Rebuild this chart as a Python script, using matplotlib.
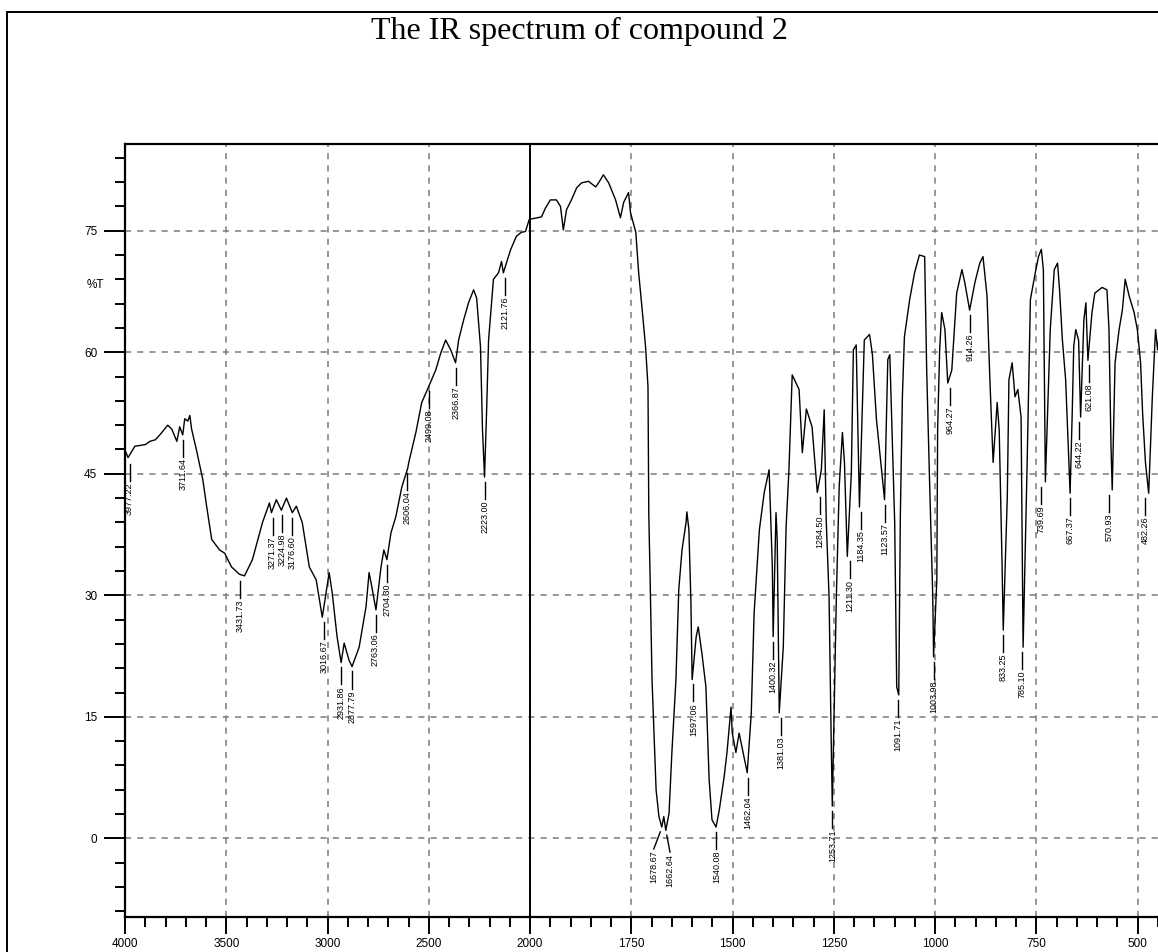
import numpy as np
import matplotlib
matplotlib.use("Agg")
import matplotlib.pyplot as plt
from matplotlib.lines import Line2D
from matplotlib.ticker import FixedLocator

# wavenumber (cm-1) and %T
wavenumber = [3998, 3985, 3951, 3900, 3877, 3850, 3828, 3789, 3769, 3744, 3730, 3715, 3705, 3690,
              3680, 3671, 3646, 3616, 3597, 3572, 3533, 3508, 3474, 3435, 3410, 3371, 3321, 3287,
              3277, 3253, 3228, 3203, 3174, 3154, 3125, 3090, 3056, 3026, 2992, 2977, 2953, 2933,
              2918, 2894, 2879, 2844, 2810, 2795, 2781, 2761, 2736, 2722, 2707, 2687, 2663, 2633,
              2604, 2599, 2564, 2535, 2500, 2466, 2441, 2417, 2392, 2368, 2353, 2328, 2304, 2279,
              2264, 2245, 2235, 2225, 2215, 2205, 2181, 2156, 2141, 2132, 2097, 2068, 2043, 2023,
              2004, 1972, 1962, 1950, 1935, 1925, 1918, 1910, 1898, 1885, 1873, 1856, 1838, 1831,
              1819, 1806, 1789, 1777, 1769, 1757, 1752, 1739, 1732, 1724, 1715, 1709, 1707, 1704,
              1699, 1689, 1682, 1675, 1670, 1665, 1657, 1650, 1640, 1633, 1625, 1615, 1613, 1608,
              1603, 1600, 1590, 1585, 1576, 1566, 1558, 1551, 1541, 1533, 1521, 1514, 1504, 1501,
              1492, 1484, 1477, 1464, 1454, 1447, 1434, 1422, 1410, 1402, 1400, 1393, 1390, 1385,
              1375, 1368, 1361, 1353, 1336, 1328, 1318, 1304, 1291, 1281, 1274, 1269, 1262, 1257,
              1254, 1244, 1237, 1229, 1224, 1217, 1207, 1202, 1195, 1187, 1175, 1162, 1155, 1145,
              1125, 1117, 1112, 1100, 1095, 1090, 1086, 1081, 1076, 1063, 1051, 1039, 1026, 1021,
              1014, 1006, 1004, 996, 994, 989, 984, 976, 969, 959, 947, 934, 927, 915, 902, 890,
              882, 872, 865, 857, 847, 842, 835, 832, 822, 818, 810, 803, 796, 788, 783, 773, 765,
              753, 745, 738, 733, 728, 716, 706, 698, 693, 686, 678, 667, 662, 658, 653, 646, 641,
              633, 628, 623, 613, 606, 588, 576, 571, 566, 563, 556, 546, 538, 531, 521, 509, 501,
              493, 488, 481, 473, 464, 456, 451, 443]
transmittance = [47.8, 47.0, 48.4, 48.6, 49.0, 49.2, 49.8, 51.0, 50.5, 49.0, 50.8, 49.8, 51.8, 51.5,
                 52.2, 50.5, 47.8, 44.3, 41.0, 36.9, 35.6, 35.2, 33.5, 32.6, 32.4, 34.4, 39.0, 41.4,
                 40.2, 41.8, 40.5, 42.0, 40.2, 41.0, 39.0, 33.5, 31.9, 27.3, 32.8, 30.3, 24.9, 21.7,
                 24.1, 22.0, 21.2, 23.6, 28.6, 32.8, 31.0, 28.2, 33.5, 35.6, 34.4, 37.7, 39.7, 43.4,
                 45.7, 46.4, 50.1, 53.8, 55.8, 57.8, 59.9, 61.5, 60.3, 58.7, 61.5, 64.0, 66.1, 67.7,
                 66.7, 60.7, 50.4, 44.6, 52.5, 61.5, 69.0, 69.8, 71.2, 69.8, 72.6, 74.3, 74.8, 74.9,
                 76.4, 76.7, 77.8, 78.8, 78.8, 78.0, 75.1, 77.6, 78.8, 80.3, 80.9, 81.1, 80.4, 80.9,
                 81.9, 80.9, 78.8, 76.6, 78.5, 79.7, 77.2, 74.8, 69.8, 65.6, 60.7, 55.8, 40.0, 32.8,
                 19.6, 6.0, 2.7, 1.4, 2.7, 1.0, 3.1, 10.6, 19.6, 30.7, 35.6, 39.0, 40.3, 38.1,
                 29.1, 19.6, 24.9, 26.1, 22.9, 18.7, 7.2, 2.3, 1.4, 3.5, 7.6, 10.6, 16.2, 13.0,
                 10.6, 13.0, 11.3, 8.1, 15.5, 27.8, 38.1, 42.7, 45.5, 33.5, 24.9, 40.2, 36.9, 15.5,
                 23.6, 38.5, 45.5, 57.2, 55.4, 47.6, 53.0, 50.8, 42.7, 45.5, 52.9, 39.3, 29.8, 13.0,
                 4.0, 29.8, 43.4, 50.1, 46.4, 34.8, 45.1, 60.3, 60.9, 40.9, 61.5, 62.2, 59.7, 51.7,
                 41.8, 59.1, 59.7, 39.0, 18.7, 17.7, 40.0, 54.5, 61.9, 66.5, 69.8, 72.0, 71.8, 57.8,
                 44.3, 29.8, 22.4, 31.9, 50.4, 60.3, 64.9, 62.8, 56.2, 57.8, 67.3, 70.2, 68.6, 65.2, 68.6, 71.0,
                 71.8, 66.9, 56.6, 46.4, 53.8, 50.4, 34.0, 25.7, 42.2, 56.6, 58.7, 54.5, 55.4, 52.0, 23.6, 46.4, 66.5,
                 69.8, 71.8, 72.7, 70.2, 44.0, 62.8, 70.2, 71.0, 67.7, 61.5, 56.6, 42.6, 52.0, 60.7, 62.8, 61.5, 52.0,
                 64.0, 66.1, 59.0, 64.9, 67.3, 68.0, 67.7, 62.8, 48.4, 43.0, 58.7, 62.8, 65.2, 69.0, 66.9, 64.9, 62.8,
                 58.7, 52.5, 46.4, 42.6, 54.5, 62.8, 60.3, 64.0]

# labelled peaks
peak_labels = ["3977.22", "3711.64", "3431.73", "3271.37", "3224.98", "3176.60", "3016.67",
               "2931.86", "2877.79", "2763.06", "2704.30", "2606.04", "2499.08", "2366.87",
               "2223.00", "2121.76", "1678.67", "1662.64", "1597.06", "1540.08", "1462.04",
               "1400.32", "1381.03", "1284.50", "1253.71", "1211.30", "1184.35", "1123.57",
               "1091.71", "1003.98", "964.27", "914.26", "833.25", "785.10", "739.69",
               "667.37", "644.22", "621.08", "570.93", "482.26"]
peak_t = [46.8, 49.8, 32.4, 40.2, 40.5, 40.2, 27.3, 21.7, 21.2, 28.2, 34.4, 45.7, 55.8, 58.7,
          44.6, 69.8, 1.4, 1.0, 19.6, 1.4, 8.1, 24.9, 15.5, 42.7, 4.0, 34.8, 40.9, 41.8, 17.7,
          22.4, 56.2, 65.2, 25.7, 23.6, 44.0, 42.6, 52.0, 59.0, 43.0, 42.6]

x_major = [4000, 3500, 3000, 2500, 2000, 1750, 1500, 1250, 1000, 750, 500]
y_major = [0, 15, 30, 45, 60, 75]


# scale change at 2000: the low-wavenumber half is stretched 2x
def fwd(w):
    w = np.asarray(w, dtype=float)
    return np.where(w >= 2000, (w - 2000) / 2000, (w - 2000) / 1000)


def inv(u):
    u = np.asarray(u, dtype=float)
    return np.where(u >= 0, 2000 + u * 2000, 2000 + u * 1000)


fig = plt.figure(figsize=(11.58, 9.52), dpi=100)
ax = fig.add_axes([125 / 1158, 1 - 917 / 952, 1 - 125 / 1158, (917 - 144) / 952])
ax.set_xscale("function", functions=(fwd, inv))
ax.set_xlim(4000, 450)
ax.set_ylim(-9.7, 85.7)

# grid
ax.xaxis.set_major_locator(FixedLocator(x_major))
ax.xaxis.set_minor_locator(FixedLocator(list(range(4000, 2000, -100)) + list(range(2000, 449, -50))))
ax.yaxis.set_major_locator(FixedLocator(y_major))
ax.yaxis.set_minor_locator(FixedLocator(list(range(-9, 86, 3))))
ax.set_xticklabels([str(v) for v in x_major])
ax.grid(True, which="major", color="#7a7a7a", linestyle=(0, (4, 4)), linewidth=1.1)
ax.axvline(2000, color="black", linewidth=1.4)

ax.plot(wavenumber, transmittance, color="black", linewidth=1.0)

# peak markers
for lab, t in zip(peak_labels, peak_t):
    w = float(lab)
    dw = 0
    if lab == "1678.67":
        dw = 16
    elif lab == "1662.64":
        dw = -8
    ax.plot([w, w + dw], [t - 0.6, t - 2.7], color="black", linewidth=1.0)
    ax.text(w + dw, t - 2.9, lab, rotation=90, ha="center", va="top",
            fontsize=6.5, family="Liberation Sans")

for s in ["top", "left", "bottom"]:
    ax.spines[s].set_linewidth(1.6)
ax.spines["right"].set_visible(False)
ax.tick_params(which="major", direction="out", width=1.4, labelsize=8.5)
ax.tick_params(axis="y", which="major", length=15, pad=5)
ax.tick_params(axis="x", which="major", length=12, pad=3)
ax.tick_params(which="minor", direction="out", length=7, width=1.4)
for lbl in ax.get_xticklabels() + ax.get_yticklabels():
    lbl.set_family("Liberation Sans")

ax.set_ylabel("%T", rotation=0, fontsize=8.5, family="Liberation Sans")
ax.yaxis.set_label_coords(-0.029, 0.81)

fig.text(0.5, 1 - 31 / 952, "The IR spectrum of compound 2", ha="center", va="center",
         fontsize=23, family="Liberation Serif")

# figure frame
fig.add_artist(Line2D([7 / 1158, 7 / 1158], [0, 1 - 12 / 952], color="black", linewidth=1.4))
fig.add_artist(Line2D([7 / 1158, 1], [1 - 12 / 952, 1 - 12 / 952], color="black", linewidth=1.4))

fig.savefig("out.png", dpi=100)
